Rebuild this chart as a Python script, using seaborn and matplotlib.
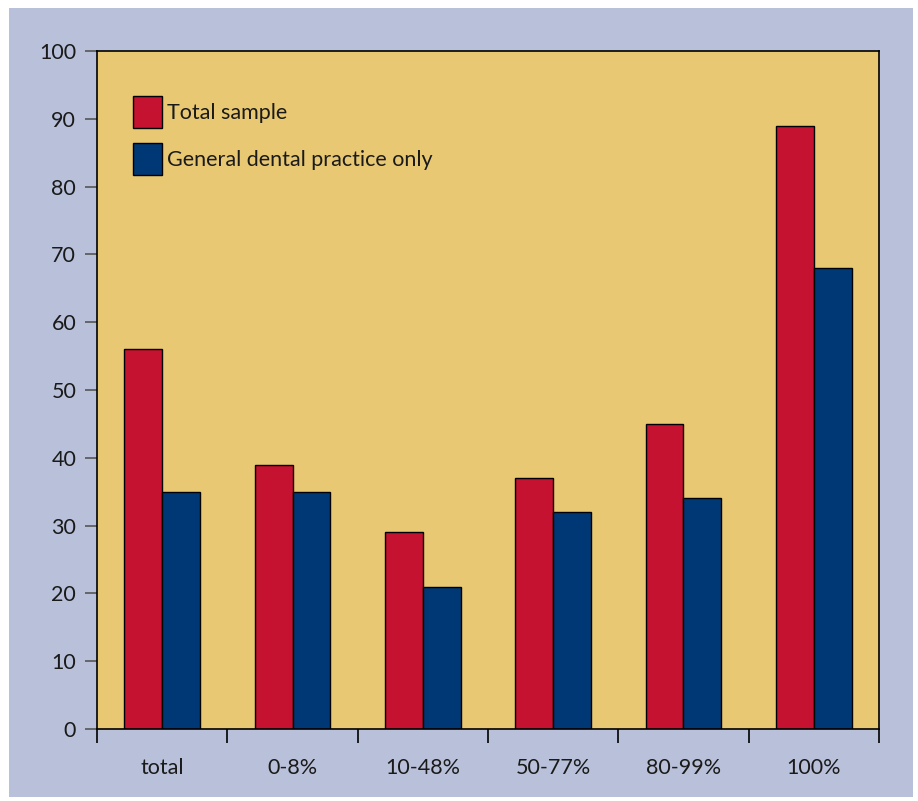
import numpy as np
import pandas as pd
import matplotlib
matplotlib.use('Agg')
import matplotlib.pyplot as plt
from matplotlib.patches import Rectangle
import seaborn as sns

# Data
categories = ['total', '0-8%', '10-48%', '50-77%', '80-99%', '100%']
total_sample = [56, 39, 29, 37, 45, 89]
general_dental = [35, 35, 21, 32, 34, 68]
series_names = ['Total sample', 'General dental practice only']

df = pd.DataFrame({
    'group': categories * 2,
    'value': total_sample + general_dental,
    'series': [series_names[0]] * len(categories) + [series_names[1]] * len(categories),
})

sns.set_theme(style='white')
plt.rcParams['font.family'] = ['Lato', 'DejaVu Sans']

fig = plt.figure(figsize=(9.18, 8.01), dpi=100, facecolor='white')
# light blue panel behind everything
bg = Rectangle((9 / 918, 4 / 801), 904 / 918, 789 / 801,
               transform=fig.transFigure, facecolor='#b9c1da',
               edgecolor='none', zorder=-10)
fig.add_artist(bg)

ax = fig.add_axes([0.1057, 0.0899, 0.8518, 0.8464])
ax.set_zorder(1)
ax.set_facecolor('#e8c872')

sns.barplot(data=df, x='group', y='value', hue='series', order=categories,
            hue_order=series_names, palette=['#c41230', '#003876'],
            width=0.58, edgecolor='black', linewidth=1, saturation=1, ax=ax)

ax.set_ylim(0, 100)
ax.set_xlim(-0.5, len(categories) - 0.5)
ax.set_yticks(np.arange(0, 101, 10))
ax.set_xlabel('')
ax.set_ylabel('')

for s in ax.spines.values():
    s.set_color('black')
    s.set_linewidth(1.2)

ax.tick_params(axis='y', which='major', left=True, length=9, width=1.2,
               color='#555555', labelsize=15.5, labelcolor='#1a1a1a', pad=6)
ax.tick_params(axis='x', which='major', bottom=False, labelsize=15.5,
               labelcolor='#1a1a1a', pad=15)
ax.set_xticks(np.arange(-0.5, len(categories), 1), minor=True)
ax.tick_params(axis='x', which='minor', bottom=True, length=10, width=1.2,
               color='black')

leg = ax.legend(loc='upper left', bbox_to_anchor=(0.046, 0.934), frameon=False,
                fontsize=15.5, handlelength=1.35, handleheight=1.9,
                handletextpad=0.25, labelspacing=0.72,
                borderpad=0, borderaxespad=0)
for t in leg.get_texts():
    t.set_color('#1a1a1a')

fig.savefig('out.png', dpi=100, facecolor=fig.get_facecolor())
